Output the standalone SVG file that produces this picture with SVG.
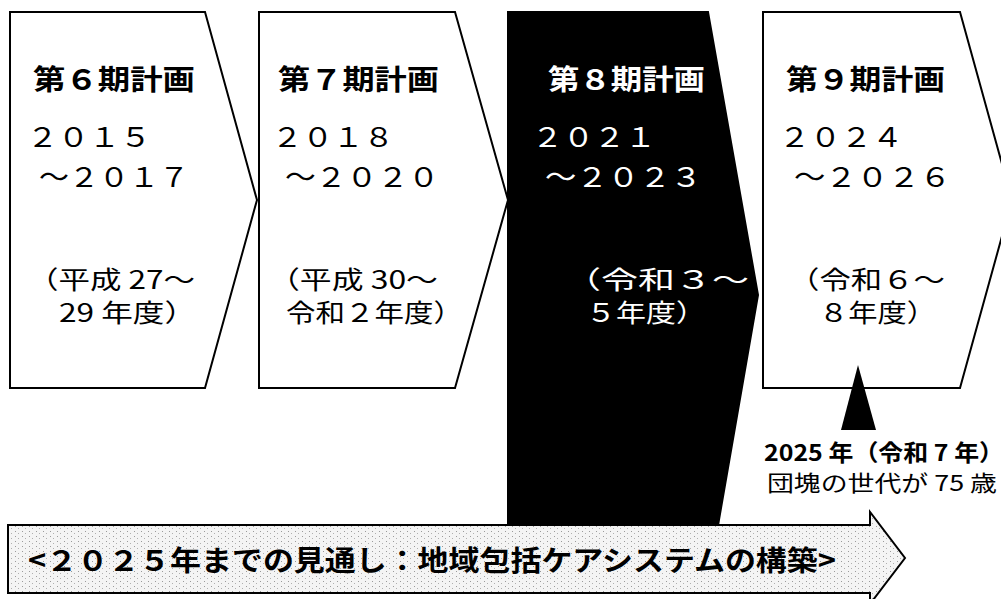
<svg xmlns="http://www.w3.org/2000/svg" width="1001" height="599" viewBox="0 0 1001 599">
  <style>
    .chev { fill: #ffffff; stroke: #000000; stroke-width: 2; stroke-linejoin: miter; }
    .chevDark { fill: #000000; stroke: #000000; stroke-width: 2; }
    .t { font-family: "Noto Sans CJK JP", "Noto Sans", sans-serif; fill: #000000; }
    .title { font-size: 28px; font-weight: 700; }
    .yr { font-size: 27px; font-weight: 400; }
    .era { font-size: 25px; font-weight: 400; }
    .w { fill: #ffffff; }
    .lbl1 { font-size: 23px; font-weight: 700; }
    .lbl2 { font-size: 22px; font-weight: 400; }
    .arrowText { font-size: 28px; font-weight: 700; }
  </style>
  <defs>
    <pattern id="dots" width="7" height="5" patternUnits="userSpaceOnUse">
      <rect width="7" height="5" fill="#f4f4f4"/>
      <rect x="1" y="1" width="1" height="1" fill="#9a9a9a"/>
      <rect x="4" y="3" width="1" height="1" fill="#b0b0b0"/>
    </pattern>
  </defs>
  <rect width="1001" height="599" fill="#ffffff"/>

  <g id="plan6">
    <polygon class="chev" points="10,12 205,12 257,200 205,388 10,388"/>
    <text class="t title" x="33" y="90" textLength="162" lengthAdjust="spacingAndGlyphs">第６期計画</text>
    <text class="t yr" x="27" y="147" textLength="124" lengthAdjust="spacingAndGlyphs">２０１５</text>
    <text class="t yr" x="39" y="187" textLength="150" lengthAdjust="spacingAndGlyphs">～２０１７</text>
    <text class="t era" x="27" y="289" textLength="168" lengthAdjust="spacingAndGlyphs">（平成 27～</text>
    <text class="t era" x="59" y="322" textLength="137" lengthAdjust="spacingAndGlyphs">29 年度）</text>
  </g>

  <g id="plan7">
    <polygon class="chev" points="259,12 455,12 508,200 455,388 259,388"/>
    <text class="t title" x="278" y="90" textLength="161" lengthAdjust="spacingAndGlyphs">第７期計画</text>
    <text class="t yr" x="272" y="147" textLength="122" lengthAdjust="spacingAndGlyphs">２０１８</text>
    <text class="t yr" x="285" y="187" textLength="154" lengthAdjust="spacingAndGlyphs">～２０２０</text>
    <text class="t era" x="268" y="289" textLength="170" lengthAdjust="spacingAndGlyphs">（平成 30～</text>
    <text class="t era" x="286" y="322" textLength="177" lengthAdjust="spacingAndGlyphs">令和２年度）</text>
  </g>

  <g id="plan8">
    <polygon class="chevDark" points="508,12 708,12 758,295 712,560 508,560"/>
    <text class="t title w" x="548" y="90" textLength="157" lengthAdjust="spacingAndGlyphs">第８期計画</text>
    <text class="t yr w" x="532" y="147" textLength="124" lengthAdjust="spacingAndGlyphs">２０２１</text>
    <text class="t yr w" x="545" y="187" textLength="157" lengthAdjust="spacingAndGlyphs">～２０２３</text>
    <text class="t era w" x="564" y="289" textLength="185" lengthAdjust="spacingAndGlyphs">（令和３～</text>
    <text class="t era w" x="586" y="322" textLength="120" lengthAdjust="spacingAndGlyphs">５年度）</text>
  </g>

  <g id="plan9">
    <polygon class="chev" points="763,12 960,12 1012,200 960,388 763,388"/>
    <text class="t title" x="786" y="90" textLength="159" lengthAdjust="spacingAndGlyphs">第９期計画</text>
    <text class="t yr" x="779" y="147" textLength="124" lengthAdjust="spacingAndGlyphs">２０２４</text>
    <text class="t yr" x="794" y="187" textLength="157" lengthAdjust="spacingAndGlyphs">～２０２６</text>
    <text class="t era" x="788" y="289" textLength="157" lengthAdjust="spacingAndGlyphs">（令和６～</text>
    <text class="t era" x="819" y="322" textLength="117" lengthAdjust="spacingAndGlyphs">８年度）</text>
  </g>

  <g id="connectors">
    <polygon id="marker2025" points="858,365 841,430 876,430" fill="#000000"/>
  </g>

  <g id="label2025">
    <text class="t lbl1" x="764" y="461" textLength="240" lengthAdjust="spacingAndGlyphs">2025 年（令和 7 年）</text>
    <text class="t lbl2" x="767" y="491" textLength="230" lengthAdjust="spacingAndGlyphs">団塊の世代が 75 歳</text>
  </g>

  <g id="outlookArrow">
    <polygon points="8,525 870,525 870,512 905,558 870,604 870,593 8,593" fill="url(#dots)" stroke="#000000" stroke-width="2"/>
    <text class="t arrowText" x="28" y="571" textLength="808" lengthAdjust="spacingAndGlyphs">&lt;２０２５年までの見通し：地域包括ケアシステムの構築&gt;</text>
  </g>
</svg>
